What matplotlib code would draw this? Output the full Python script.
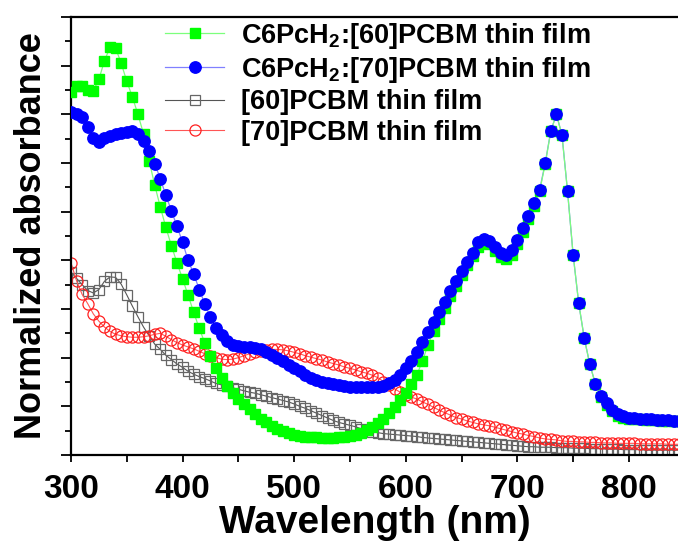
import numpy as np
import matplotlib
matplotlib.use("Agg")
import matplotlib.pyplot as plt
from matplotlib.ticker import MultipleLocator

plt.rcParams['font.family'] = ['Liberation Sans', 'DejaVu Sans']
plt.rcParams['font.weight'] = 'bold'
plt.rcParams['mathtext.fontset'] = 'custom'
plt.rcParams['mathtext.bf'] = 'Liberation Sans:bold'
plt.rcParams['mathtext.rm'] = 'Liberation Sans:bold'

# wavelength grid (nm), 5 nm steps
wavelength = list(range(300, 850, 5))

# C6PcH2:[60]PCBM thin film
blend60 = [7.45, 7.58, 7.58, 7.50, 7.48, 7.72, 8.10, 8.38, 8.36, 8.05,
           7.68, 7.36, 7.00, 6.60, 6.05, 5.55, 5.10, 4.68, 4.30, 3.95,
           3.62, 3.28, 2.93, 2.60, 2.30, 2.04, 1.79, 1.59, 1.42, 1.28,
           1.16, 1.05, 0.94, 0.84, 0.75, 0.67, 0.60, 0.54, 0.49, 0.45,
           0.42, 0.40, 0.38, 0.37, 0.36, 0.35, 0.35, 0.35, 0.36, 0.37,
           0.39, 0.42, 0.46, 0.52, 0.58, 0.66, 0.75, 0.86, 0.99, 1.13,
           1.28, 1.46, 1.65, 1.93, 2.27, 2.55, 2.80, 3.03, 3.26, 3.48,
           3.70, 3.90, 4.08, 4.28, 4.36, 4.33, 4.20, 4.06, 4.02, 4.12,
           4.33, 4.58, 4.85, 5.12, 5.42, 5.98, 6.65, 7.00, 6.58, 5.42,
           4.12, 3.12, 2.40, 1.86, 1.46, 1.20, 1.03, 0.90, 0.81, 0.77,
           0.75, 0.74, 0.73, 0.72, 0.71, 0.71, 0.70, 0.70, 0.69, 0.69]

# C6PcH2:[70]PCBM thin film
blend70 = [7.04, 7.00, 6.94, 6.73, 6.52, 6.43, 6.51, 6.56, 6.59, 6.61,
           6.63, 6.65, 6.60, 6.45, 6.25, 5.99, 5.68, 5.34, 5.02, 4.70,
           4.37, 4.00, 3.72, 3.40, 3.10, 2.83, 2.62, 2.46, 2.34, 2.27,
           2.23, 2.21, 2.21, 2.20, 2.17, 2.12, 2.06, 2.00, 1.93, 1.85,
           1.78, 1.72, 1.65, 1.59, 1.55, 1.51, 1.48, 1.45, 1.43, 1.41,
           1.40, 1.39, 1.39, 1.39, 1.39, 1.40, 1.42, 1.47, 1.55, 1.65,
           1.78, 1.94, 2.12, 2.33, 2.53, 2.73, 2.93, 3.14, 3.36, 3.58,
           3.78, 3.97, 4.16, 4.37, 4.43, 4.40, 4.28, 4.15, 4.11, 4.21,
           4.42, 4.67, 4.92, 5.17, 5.45, 6.00, 6.66, 7.00, 6.58, 5.42,
           4.12, 3.12, 2.40, 1.86, 1.46, 1.22, 1.06, 0.93, 0.84, 0.80,
           0.77, 0.76, 0.75, 0.74, 0.73, 0.72, 0.72, 0.71, 0.70, 0.70]

# [60]PCBM thin film
pcbm60 = [3.76, 3.63, 3.50, 3.38, 3.33, 3.40, 3.57, 3.66, 3.65, 3.51,
          3.29, 3.06, 2.84, 2.63, 2.45, 2.28, 2.17, 2.05, 1.96, 1.87,
          1.80, 1.72, 1.66, 1.61, 1.57, 1.52, 1.47, 1.44, 1.41, 1.38,
          1.35, 1.32, 1.29, 1.27, 1.24, 1.21, 1.18, 1.15, 1.12, 1.09,
          1.05, 1.00, 0.96, 0.91, 0.86, 0.81, 0.76, 0.71, 0.67, 0.64,
          0.61, 0.58, 0.54, 0.51, 0.48, 0.46, 0.44, 0.43, 0.42, 0.41,
          0.40, 0.39, 0.38, 0.36, 0.35, 0.34, 0.33, 0.32, 0.31, 0.30,
          0.29, 0.28, 0.27, 0.26, 0.25, 0.24, 0.23, 0.22, 0.21, 0.20,
          0.19, 0.18, 0.17, 0.17, 0.16, 0.16, 0.16, 0.15, 0.15, 0.15,
          0.14, 0.14, 0.14, 0.13, 0.13, 0.13, 0.12, 0.12, 0.12, 0.11,
          0.11, 0.11, 0.11, 0.10, 0.10, 0.10, 0.10, 0.10, 0.10, 0.10]

# [70]PCBM thin film
pcbm70 = [3.95, 3.58, 3.30, 3.11, 2.90, 2.75, 2.63, 2.54, 2.48, 2.45,
          2.43, 2.42, 2.42, 2.43, 2.45, 2.48, 2.50, 2.44, 2.37, 2.31,
          2.26, 2.22, 2.18, 2.13, 2.08, 2.04, 2.00, 1.97, 1.96, 1.97,
          2.00, 2.04, 2.08, 2.11, 2.13, 2.15, 2.17, 2.17, 2.16, 2.14,
          2.11, 2.08, 2.04, 2.01, 1.98, 1.95, 1.91, 1.88, 1.85, 1.81,
          1.78, 1.75, 1.71, 1.68, 1.64, 1.59, 1.51, 1.44, 1.36, 1.29,
          1.23, 1.19, 1.15, 1.09, 1.04, 0.98, 0.92, 0.87, 0.82, 0.77,
          0.74, 0.70, 0.67, 0.64, 0.62, 0.60, 0.57, 0.54, 0.51, 0.48,
          0.45, 0.43, 0.40, 0.38, 0.35, 0.33, 0.32, 0.31, 0.29, 0.28,
          0.28, 0.27, 0.27, 0.26, 0.26, 0.25, 0.25, 0.25, 0.24, 0.24,
          0.24, 0.24, 0.23, 0.23, 0.23, 0.23, 0.23, 0.22, 0.22, 0.22]

labels = [r'C6PcH$_\mathbf{2}$:[60]PCBM thin film',
          r'C6PcH$_\mathbf{2}$:[70]PCBM thin film',
          '[60]PCBM thin film',
          '[70]PCBM thin film']

fig = plt.figure(figsize=(6.78, 5.42), dpi=100)
ax = fig.add_axes([0.1047, 0.1605, 0.8953, 0.8081])

# blue connecting line sits under the green curve, dots on top
l2, = ax.plot(wavelength, blend70, '-', color='#8080FF', lw=0.9, zorder=2.5)
h1, = ax.plot(wavelength, blend60, '-', color='#7CFF7C', lw=0.9,
              marker='s', ms=6.5, mfc='#00FF00', mec='#00FF00', zorder=3)
m2, = ax.plot(wavelength, blend70, ls='none',
              marker='o', ms=8.2, mfc='#0000FF', mec='#0000FF', zorder=4)
h3, = ax.plot(wavelength, pcbm60, '-', color='#555555', lw=0.8,
              marker='s', ms=6.8, mfc='none', mec='#666666', mew=0.9, zorder=1)
h4, = ax.plot(wavelength, pcbm70, '-', color='#FF5555', lw=0.8,
              marker='o', ms=8, mfc='none', mec='#FF2020', mew=0.9, zorder=2)

ax.set_xlim(300, 844)
ax.set_ylim(0, 9)
ax.xaxis.set_major_locator(MultipleLocator(100))
ax.xaxis.set_minor_locator(MultipleLocator(50))
ax.yaxis.set_major_locator(MultipleLocator(1))
ax.yaxis.set_minor_locator(MultipleLocator(0.5))
ax.tick_params(axis='x', which='both', direction='out', length=5, width=1.3,
               labelsize=24, pad=9, top=False)
ax.tick_params(axis='y', which='major', direction='out', length=7.5, width=1.3,
               labelleft=False, right=False)
ax.tick_params(axis='y', which='minor', direction='out', length=4, width=1.3,
               right=False)
for s in ['left', 'bottom', 'top']:
    ax.spines[s].set_linewidth(1.6)
ax.spines['right'].set_visible(False)

ax.set_xlabel('Wavelength (nm)', fontsize=28, fontweight='bold', labelpad=0)
ax.set_ylabel('Normalized absorbance', fontsize=26, fontweight='bold', labelpad=8)

ax.legend([h1, (l2, m2), h3, h4], labels, loc='upper left',
          bbox_to_anchor=(0.243, 0.962), bbox_transform=fig.transFigure,
          frameon=False, handlelength=2.2, handletextpad=0.6,
          labelspacing=0.16, borderpad=0, borderaxespad=0,
          prop={'weight': 'bold', 'size': 19.5})

fig.savefig('out.png', dpi=100)
